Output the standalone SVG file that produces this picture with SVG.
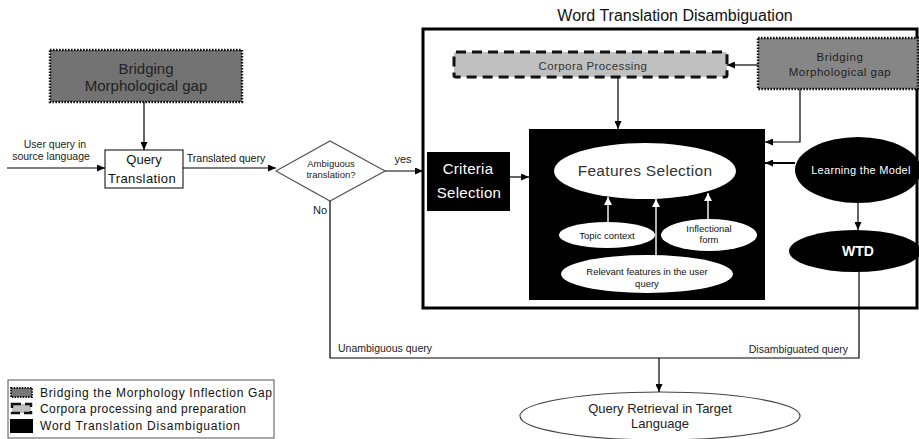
<svg xmlns="http://www.w3.org/2000/svg" width="919" height="439" viewBox="0 0 919 439">
<style>
text{font-family:"Liberation Sans",Arial,sans-serif;}
.ln{stroke:#000;stroke-width:1.2;fill:none;}
.wl{stroke:#fff;stroke-width:1.4;fill:none;}
.dot{stroke:#111;stroke-width:2.5;stroke-dasharray:1.6 1.4;}
.dash{stroke:#111;stroke-width:3;stroke-dasharray:10 6;}
.blk{fill:#000;}
.wt{fill:#fff;}
.dk{fill:#222;}
</style>
<defs>
<marker id="ah" markerWidth="8" markerHeight="7" refX="8" refY="3.5" orient="auto" markerUnits="userSpaceOnUse">
<path d="M0,0 L8,3.5 L0,7 z" fill="#000"/>
</marker>
<marker id="wh" markerWidth="8" markerHeight="8" refX="8" refY="4" orient="auto" markerUnits="userSpaceOnUse">
<path d="M0,0 L8,4 L0,8 z" fill="#fff"/>
</marker>
</defs>
<rect width="919" height="439" fill="#fff"/>

<text x="675" y="21" font-size="16" text-anchor="middle" fill="#111">Word Translation Disambiguation</text>

<g id="wtd-frame">
<rect x="423" y="29" width="494" height="279" fill="none" stroke="#000" stroke-width="3"/>
</g>

<g id="bridging-left">
<rect x="50" y="50" width="192" height="52" fill="#727272" class="dot"/>
<text x="146" y="74" font-size="15" text-anchor="middle" class="dk">Bridging</text>
<text x="146" y="91" font-size="15" text-anchor="middle" class="dk">Morphological gap</text>
</g>

<g id="query-translation">
<rect x="105" y="150" width="78" height="38" fill="#fff" stroke="#000" stroke-width="1"/>
<text x="144" y="164" font-size="13" text-anchor="middle" fill="#111">Query</text>
<text x="142" y="183" font-size="13" text-anchor="middle" fill="#111" letter-spacing="0.4">Translation</text>
</g>

<g id="ambiguous">
<polygon points="276,171 330,141 385,171 330,201" fill="#fff" stroke="#555" stroke-width="1.2"/>
<text x="331" y="167" font-size="9.5" text-anchor="middle" fill="#222">Ambiguous</text>
<text x="331" y="178" font-size="9.5" text-anchor="middle" fill="#222">translation?</text>
</g>

<g id="corpora">
<rect x="454" y="52" width="273" height="25" rx="2" fill="#c0c0c0" class="dash"/>
<text x="593" y="70" font-size="11.5" text-anchor="middle" fill="#333" letter-spacing="0.4">Corpora Processing</text>
</g>

<g id="bridging-right">
<rect x="758" y="38" width="160" height="51" fill="#868686" class="dot"/>
<text x="840" y="61" font-size="11.5" text-anchor="middle" class="dk" letter-spacing="0.6">Bridging</text>
<text x="840" y="76" font-size="11.5" text-anchor="middle" class="dk" letter-spacing="0.5">Morphological gap</text>
</g>

<g id="criteria">
<rect x="427" y="152" width="83" height="59" class="blk"/>
<text x="468" y="174" font-size="15" text-anchor="middle" class="wt" letter-spacing="0.3">Criteria</text>
<text x="469" y="198" font-size="15" text-anchor="middle" class="wt" letter-spacing="0.3">Selection</text>
</g>

<g id="features-box">
<rect x="529" y="129" width="236" height="171" class="blk"/>
</g>

<g id="features-selection">
<ellipse cx="645" cy="171" rx="91" ry="28" class="wt"/>
<text x="645" y="176" font-size="15.5" text-anchor="middle" fill="#333" letter-spacing="0.3">Features Selection</text>
</g>

<g id="topic-context">
<ellipse cx="607" cy="235" rx="48" ry="13" class="wt"/>
<text x="607" y="238.5" font-size="9.5" text-anchor="middle" fill="#111">Topic context</text>
</g>

<g id="inflectional-form">
<ellipse cx="709" cy="235" rx="48" ry="16" class="wt"/>
<text x="709" y="232" font-size="9.5" text-anchor="middle" fill="#111">Inflectional</text>
<text x="709" y="243" font-size="9.5" text-anchor="middle" fill="#111">form</text>
</g>

<g id="relevant-features">
<ellipse cx="647" cy="274" rx="86" ry="19" class="wt"/>
<text x="647" y="275" font-size="9.5" text-anchor="middle" fill="#111">Relevant features in the user</text>
<text x="647" y="287" font-size="9.5" text-anchor="middle" fill="#111">query</text>
</g>

<g id="learning-model">
<ellipse cx="858" cy="170" rx="63" ry="33" class="blk"/>
<text x="861" y="174" font-size="11" text-anchor="middle" class="wt" letter-spacing="0.3">Learning the Model</text>
</g>

<g id="wtd">
<ellipse cx="855" cy="251" rx="66" ry="21" class="blk"/>
<text x="858" y="256" font-size="14" font-weight="bold" text-anchor="middle" class="wt">WTD</text>
</g>

<g id="query-retrieval">
<ellipse cx="660" cy="416" rx="140" ry="24" fill="#fff" stroke="#444" stroke-width="1.2"/>
<text x="660" y="413" font-size="13" text-anchor="middle" fill="#222">Query Retrieval in Target</text>
<text x="660" y="428" font-size="13" text-anchor="middle" fill="#222">Language</text>
</g>

<g id="connectors">
<line x1="7" y1="168" x2="105" y2="168" class="ln" marker-end="url(#ah)"/>
<line x1="144" y1="102" x2="144" y2="150" class="ln" marker-end="url(#ah)"/>
<line x1="183" y1="168" x2="276" y2="168" class="ln" marker-end="url(#ah)"/>
<line x1="385" y1="171" x2="423" y2="171" class="ln" marker-end="url(#ah)"/>
<line x1="510" y1="177" x2="529" y2="177" class="ln" marker-end="url(#ah)"/>
<line x1="758" y1="65" x2="727" y2="65" class="ln" marker-end="url(#ah)"/>
<line x1="618" y1="77" x2="618" y2="129" class="ln" marker-end="url(#ah)"/>
<polyline points="800,89 800,142 765,142" class="ln" marker-end="url(#ah)"/>
<line x1="795" y1="163" x2="765" y2="163" stroke="#000" stroke-width="2" marker-end="url(#ah)"/>
<line x1="858" y1="203" x2="858" y2="230" class="ln" marker-end="url(#ah)"/>
<line x1="608" y1="222" x2="608" y2="197" class="wl" marker-end="url(#wh)"/>
<line x1="656" y1="255" x2="656" y2="199" class="wl" marker-end="url(#wh)"/>
<line x1="708" y1="219" x2="708" y2="193" class="wl" marker-end="url(#wh)"/>
<polyline points="330,201 330,358 859,358 859,272" class="ln"/>
<line x1="659" y1="358" x2="659" y2="392" class="ln" marker-end="url(#ah)"/>
<text x="55" y="148" font-size="10.5" text-anchor="middle" fill="#222">User query in</text>
<text x="51" y="160" font-size="10.5" text-anchor="middle" fill="#222">source language</text>
<text x="226" y="162" font-size="10.5" text-anchor="middle" fill="#111">Translated query</text>
<text x="403" y="163" font-size="11" text-anchor="middle" fill="#222">yes</text>
<text x="320" y="214" font-size="11" text-anchor="middle" fill="#222">No</text>
<text x="338" y="352" font-size="10.5" fill="#222">Unambiguous query</text>
<text x="848" y="353" font-size="10.5" text-anchor="end" fill="#222">Disambiguated query</text>
</g>

<g id="legend">
<rect x="8" y="380" width="266" height="58" fill="#fff" stroke="#555" stroke-width="1"/>
<rect x="11" y="388" width="21" height="9" fill="#777" stroke="#111" stroke-width="2" stroke-dasharray="1.5 1.2"/>
<text x="40" y="397" font-size="12" fill="#111" textLength="232" lengthAdjust="spacing">Bridging the Morphology Inflection Gap</text>
<rect x="12" y="404" width="19" height="9" fill="#c0c0c0" stroke="#111" stroke-width="2.5" stroke-dasharray="9 4"/>
<text x="40" y="413" font-size="12" fill="#111" textLength="206" lengthAdjust="spacing">Corpora processing and preparation</text>
<rect x="10" y="419" width="23" height="14" fill="#000"/>
<text x="40" y="430" font-size="12" fill="#111" textLength="200" lengthAdjust="spacing">Word Translation Disambiguation</text>
</g>
</svg>
